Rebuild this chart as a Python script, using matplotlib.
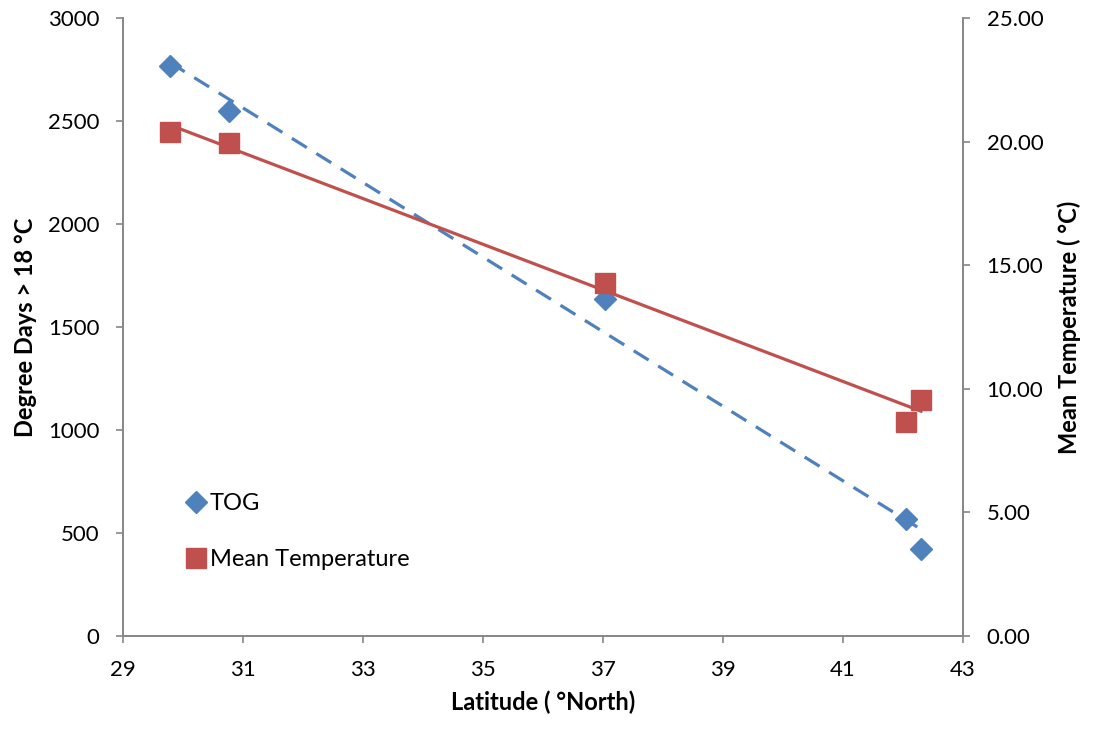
import numpy as np
import matplotlib
matplotlib.use("Agg")
import matplotlib.pyplot as plt

plt.rcParams['font.family'] = ['Lato', 'DejaVu Sans']

latitude = [29.78, 30.77, 37.03, 42.05, 42.3]
tog = [2767, 2549, 1636, 568, 422]
mean_temp = [20.39, 19.94, 14.28, 8.66, 9.55]

blue = '#4F81BD'
red = '#C0504D'
grey = '#868686'

fig = plt.figure(figsize=(10.99, 7.30), dpi=100)
ax = fig.add_axes([0.1119, 0.1288, 0.7644, 0.8465])
ax2 = ax.twinx()

# trend lines
x = np.array(latitude)
p1 = np.polyfit(x, tog, 1)
p2 = np.polyfit(x, mean_temp, 1)
xs = np.array([x.min(), x.max()])
ax.plot(xs, np.polyval(p1, xs), color=blue, lw=2.3, ls=(0, (5.5, 3.5)), zorder=2)
ax2.plot(xs, np.polyval(p2, xs), color=red, lw=2.3, zorder=2)

ax.plot(latitude, tog, 'D', color=blue, ms=11, ls='none', label='TOG', zorder=3)
ax2.plot(latitude, mean_temp, 's', color=red, ms=14, ls='none', label='Mean Temperature', zorder=3)

ax.set_xlim(29, 43)
ax.set_ylim(0, 3000)
ax2.set_ylim(0, 25)
ax.set_xticks(range(29, 44, 2))
ax.set_yticks(range(0, 3001, 500))
ax2.set_yticks(np.arange(0, 25.1, 5))
ax2.set_yticklabels(['%.2f' % v for v in np.arange(0, 25.1, 5)])

for a in (ax, ax2):
    a.spines['top'].set_visible(False)
    for s in ('left', 'right', 'bottom'):
        a.spines[s].set_color(grey)
        a.spines[s].set_linewidth(1.2)
    a.tick_params(colors=grey, labelcolor='black', labelsize=16, length=5, width=1.2,
                  direction='out', pad=12)
ax.patch.set_visible(False)

ax.set_xlabel('Latitude ( °North)', fontsize=17, fontweight='bold', labelpad=8)
ax.set_ylabel('Degree Days > 18 °C', fontsize=17, fontweight='bold', labelpad=8)
ax2.set_ylabel('Mean Temperature ( °C)', fontsize=17, fontweight='bold', labelpad=10)

h1, l1 = ax.get_legend_handles_labels()
h2, l2 = ax2.get_legend_handles_labels()
leg = ax2.legend(h1 + h2, l1 + l2, loc='lower left', bbox_to_anchor=(0.053, 0.072),
                 frameon=False, fontsize=17, handlelength=0.6, handletextpad=0.3,
                 labelspacing=1.5, markerscale=1.0)

fig.savefig('out.png', dpi=100)
